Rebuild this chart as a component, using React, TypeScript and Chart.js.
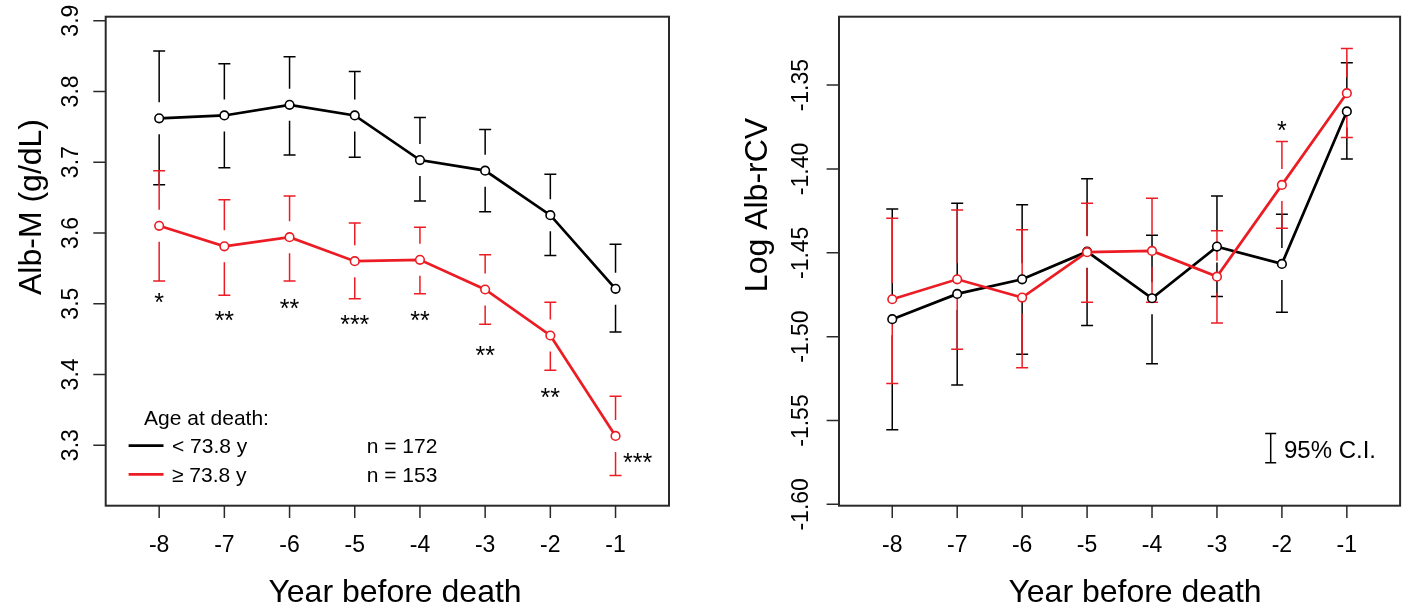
import React, { useEffect, useRef } from "react";
import { Chart, registerables } from "chart.js";

Chart.register(...registerables);

const FONT = '"Liberation Sans", Arial, Helvetica, sans-serif';
const RED = "#ec1c24";
const BLACK = "#000000";

// x categories / ticks
const years = [-8, -7, -6, -5, -4, -3, -2, -1];
const xTickLabels = ["-8", "-7", "-6", "-5", "-4", "-3", "-2", "-1"];

// left panel: Alb-M (g/dL)
const leftYTicks = [3.3, 3.4, 3.5, 3.6, 3.7, 3.8, 3.9];
const albMYoung = [3.762, 3.766, 3.781, 3.766, 3.703, 3.688, 3.625, 3.521];
const albMYoungLo = [3.668, 3.692, 3.71, 3.707, 3.645, 3.63, 3.568, 3.46];
const albMYoungHi = [3.857, 3.839, 3.849, 3.828, 3.763, 3.746, 3.683, 3.584];
const albMOld = [3.61, 3.581, 3.594, 3.56, 3.562, 3.52, 3.455, 3.313];
const albMOldLo = [3.532, 3.512, 3.532, 3.507, 3.514, 3.471, 3.406, 3.257];
const albMOldHi = [3.688, 3.647, 3.652, 3.614, 3.608, 3.569, 3.502, 3.369];
const leftSigLabels = ["*", "**", "**", "***", "**", "**", "**", "***"];
const leftSigX = [-8, -7, -6, -5, -4, -3, -2, -0.66];
const leftSigY = [3.5096, 3.4835, 3.5012, 3.4781, 3.4842, 3.4347, 3.3749, 3.2838];

// right panel: Log Alb-rCV
const rightYTicks = [-1.6, -1.55, -1.5, -1.45, -1.4, -1.35];
const rcvYoung = [-1.4896, -1.4745, -1.4658, -1.4493, -1.4771, -1.4463, -1.4566, -1.3657];
const rcvYoungLo = [-1.5555, -1.5288, -1.5105, -1.4934, -1.5161, -1.4761, -1.4855, -1.394];
const rcvYoungHi = [-1.4238, -1.4204, -1.4214, -1.4059, -1.4395, -1.4161, -1.427, -1.3367];
const rcvOld = [-1.4777, -1.4658, -1.4767, -1.4496, -1.4489, -1.4642, -1.4095, -1.3548];
const rcvOldLo = [-1.528, -1.5075, -1.5185, -1.4795, -1.4795, -1.4918, -1.4353, -1.3813];
const rcvOldHi = [-1.4294, -1.4244, -1.4363, -1.4204, -1.4174, -1.4369, -1.3836, -1.3281];
const rightSigLabels = ["*"];
const rightSigX = [-2];
const rightSigY = [-1.3736];

const legendTitle = "Age at death:";
const legendLabels = ["< 73.8 y", "\u2265 73.8 y"];
const legendCounts = ["n = 172", "n = 153"];

const GAP = 16;
const CAP = 6;

type Series = { mean: number[]; lo: number[]; hi: number[]; color: string };
type PanelCfg = {
  id: string;
  offsetX: number;
  padding: { left: number; top: number; right: number; bottom: number };
  yMin: number;
  yMax: number;
  yTicks: number[];
  yDigits: number;
  yTickBaseX: number;
  yTitle: string;
  yTitleBaseX: number;
  yTitleCenterY: number;
  xTitleCenterX: number;
  series: Series[];
  sigLabels: string[];
  sigX: number[];
  sigY: number[];
  extra: "legend" | "ci";
};

const leftCfg: PanelCfg = {
  id: "left",
  offsetX: 0,
  padding: { left: 105.7, top: 16.7, right: 34, bottom: 103.3 },
  yMin: 3.2144,
  yMax: 3.9056,
  yTicks: leftYTicks,
  yDigits: 1,
  yTickBaseX: 78.3,
  yTitle: "Alb-M (g/dL)",
  yTitleBaseX: 41,
  yTitleCenterY: 207,
  xTitleCenterX: 395,
  series: [
    { mean: albMYoung, lo: albMYoungLo, hi: albMYoungHi, color: BLACK },
    { mean: albMOld, lo: albMOldLo, hi: albMOldHi, color: RED },
  ],
  sigLabels: leftSigLabels,
  sigX: leftSigX,
  sigY: leftSigY,
  extra: "legend",
};

const rightCfg: PanelCfg = {
  id: "right",
  offsetX: 703,
  padding: { left: 136, top: 16.7, right: 4, bottom: 103.3 },
  yMin: -1.6008,
  yMax: -1.3092,
  yTicks: rightYTicks,
  yDigits: 2,
  yTickBaseX: 105.3,
  yTitle: "Log Alb-rCV",
  yTitleBaseX: 64,
  yTitleCenterY: 205,
  xTitleCenterX: 432,
  series: [
    { mean: rcvYoung, lo: rcvYoungLo, hi: rcvYoungHi, color: BLACK },
    { mean: rcvOld, lo: rcvOldLo, hi: rcvOldHi, color: RED },
  ],
  sigLabels: rightSigLabels,
  sigX: rightSigX,
  sigY: rightSigY,
  extra: "ci",
};

function makePlugin(cfg: PanelCfg) {
  return {
    id: "furniture_" + cfg.id,
    beforeDatasetsDraw(chart: any) {
      const { ctx } = chart;
      const x = chart.scales.x;
      const y = chart.scales.y;
      ctx.save();
      ctx.lineWidth = 1.5;
      for (const s of cfg.series) {
        ctx.strokeStyle = s.color;
        s.mean.forEach((m, i) => {
          const px = x.getPixelForValue(years[i]);
          const pm = y.getPixelForValue(m);
          const ph = y.getPixelForValue(s.hi[i]);
          const pl = y.getPixelForValue(s.lo[i]);
          ctx.beginPath();
          ctx.moveTo(px, ph);
          ctx.lineTo(px, pm - GAP);
          ctx.moveTo(px, pm + GAP);
          ctx.lineTo(px, pl);
          ctx.moveTo(px - CAP, ph);
          ctx.lineTo(px + CAP, ph);
          ctx.moveTo(px - CAP, pl);
          ctx.lineTo(px + CAP, pl);
          ctx.stroke();
        });
      }
      ctx.restore();
    },
    afterDraw(chart: any) {
      const { ctx, chartArea } = chart;
      const x = chart.scales.x;
      const y = chart.scales.y;
      const { left, right, top, bottom } = chartArea;
      ctx.save();
      // box
      ctx.strokeStyle = "#2a2a2a";
      ctx.lineWidth = 2;
      ctx.strokeRect(left, top, right - left, bottom - top);
      // ticks
      ctx.lineWidth = 1.5;
      ctx.beginPath();
      years.forEach((v) => {
        const px = x.getPixelForValue(v);
        ctx.moveTo(px, bottom);
        ctx.lineTo(px, bottom + 12.3);
      });
      cfg.yTicks.forEach((v) => {
        const py = y.getPixelForValue(v);
        ctx.moveTo(left, py);
        ctx.lineTo(left - 12.4, py);
      });
      ctx.stroke();
      // x tick labels
      ctx.fillStyle = "#000";
      ctx.font = `23px ${FONT}`;
      ctx.textAlign = "center";
      ctx.textBaseline = "alphabetic";
      years.forEach((v, i) => {
        ctx.fillText(xTickLabels[i], x.getPixelForValue(v), 551.7);
      });
      // y tick labels (rotated)
      cfg.yTicks.forEach((v) => {
        const py = y.getPixelForValue(v);
        ctx.save();
        ctx.translate(cfg.yTickBaseX, py);
        ctx.rotate(-Math.PI / 2);
        ctx.textAlign = "center";
        ctx.fillText(v.toFixed(cfg.yDigits), 0, 0);
        ctx.restore();
      });
      // titles
      ctx.font = `32px ${FONT}`;
      ctx.textAlign = "center";
      ctx.fillText("Year before death", cfg.xTitleCenterX, 602);
      ctx.save();
      ctx.translate(cfg.yTitleBaseX, cfg.yTitleCenterY);
      ctx.rotate(-Math.PI / 2);
      ctx.fillText(cfg.yTitle, 0, 0);
      ctx.restore();
      // significance marks
      ctx.font = `25px ${FONT}`;
      ctx.textAlign = "center";
      cfg.sigLabels.forEach((lab, i) => {
        const px = x.getPixelForValue(cfg.sigX[i]);
        const py = y.getPixelForValue(cfg.sigY[i]);
        ctx.fillText(lab, px, py + 14);
      });
      if (cfg.extra === "legend") {
        ctx.textAlign = "left";
        ctx.font = `21px ${FONT}`;
        ctx.fillText(legendTitle, 144, 425);
        const rowsLine = [445.7, 474.3];
        const rowsBase = [452.7, 481.7];
        [BLACK, RED].forEach((c, i) => {
          ctx.strokeStyle = c;
          ctx.lineWidth = 2.7;
          ctx.beginPath();
          ctx.moveTo(128.6, rowsLine[i]);
          ctx.lineTo(163.5, rowsLine[i]);
          ctx.stroke();
          ctx.fillStyle = "#000";
          ctx.fillText(legendLabels[i], 172, rowsBase[i]);
          ctx.fillText(legendCounts[i], 366.7, rowsBase[i]);
        });
      } else {
        const bx = 1270.7 - cfg.offsetX;
        ctx.strokeStyle = "#000";
        ctx.lineWidth = 1.5;
        ctx.beginPath();
        ctx.moveTo(bx, 433.5);
        ctx.lineTo(bx, 462.7);
        ctx.moveTo(bx - 5.5, 433.5);
        ctx.lineTo(bx + 5.5, 433.5);
        ctx.moveTo(bx - 5.5, 462.7);
        ctx.lineTo(bx + 5.5, 462.7);
        ctx.stroke();
        ctx.textAlign = "left";
        ctx.font = `24px ${FONT}`;
        ctx.fillStyle = "#000";
        ctx.fillText("95% C.I.", 1284 - cfg.offsetX, 458.3);
      }
      ctx.restore();
    },
  };
}

function Panel({ cfg }: { cfg: PanelCfg }) {
  const ref = useRef<HTMLCanvasElement | null>(null);
  useEffect(() => {
    if (!ref.current) return;
    const names = ["< 73.8 y", "\u2265 73.8 y"];
    const chart = new Chart(ref.current, {
      type: "line",
      data: {
        datasets: cfg.series.map((s, k) => ({
          label: names[k],
          data: years.map((yr, i) => ({ x: yr, y: s.mean[i] })),
          borderColor: s.color,
          borderWidth: 2.7,
          pointRadius: 4.3,
          pointBorderWidth: 1.6,
          pointBackgroundColor: "#ffffff",
          pointBorderColor: s.color,
          tension: 0,
          fill: false,
          order: k === 0 ? 1 : 0,
        })),
      },
      options: {
        responsive: false,
        animation: false,
        events: [],
        layout: { padding: cfg.padding },
        plugins: {
          legend: { display: false },
          tooltip: { enabled: false },
        },
        scales: {
          x: { type: "linear", min: -8.82, max: -0.18, display: false },
          y: { type: "linear", min: cfg.yMin, max: cfg.yMax, display: false },
        },
      },
      plugins: [makePlugin(cfg)],
    } as any);
    return () => chart.destroy();
  }, [cfg]);
  return (
    <canvas
      ref={ref}
      width={703}
      height={609}
      style={{ position: "absolute", left: cfg.offsetX, top: 0, width: 703, height: 609 }}
    />
  );
}

export default function App() {
  return (
    <div
      style={{
        position: "fixed",
        left: 0,
        top: 0,
        width: 1406,
        height: 609,
        background: "#ffffff",
        overflow: "hidden",
      }}
    >
      <Panel cfg={leftCfg} />
      <Panel cfg={rightCfg} />
    </div>
  );
}
